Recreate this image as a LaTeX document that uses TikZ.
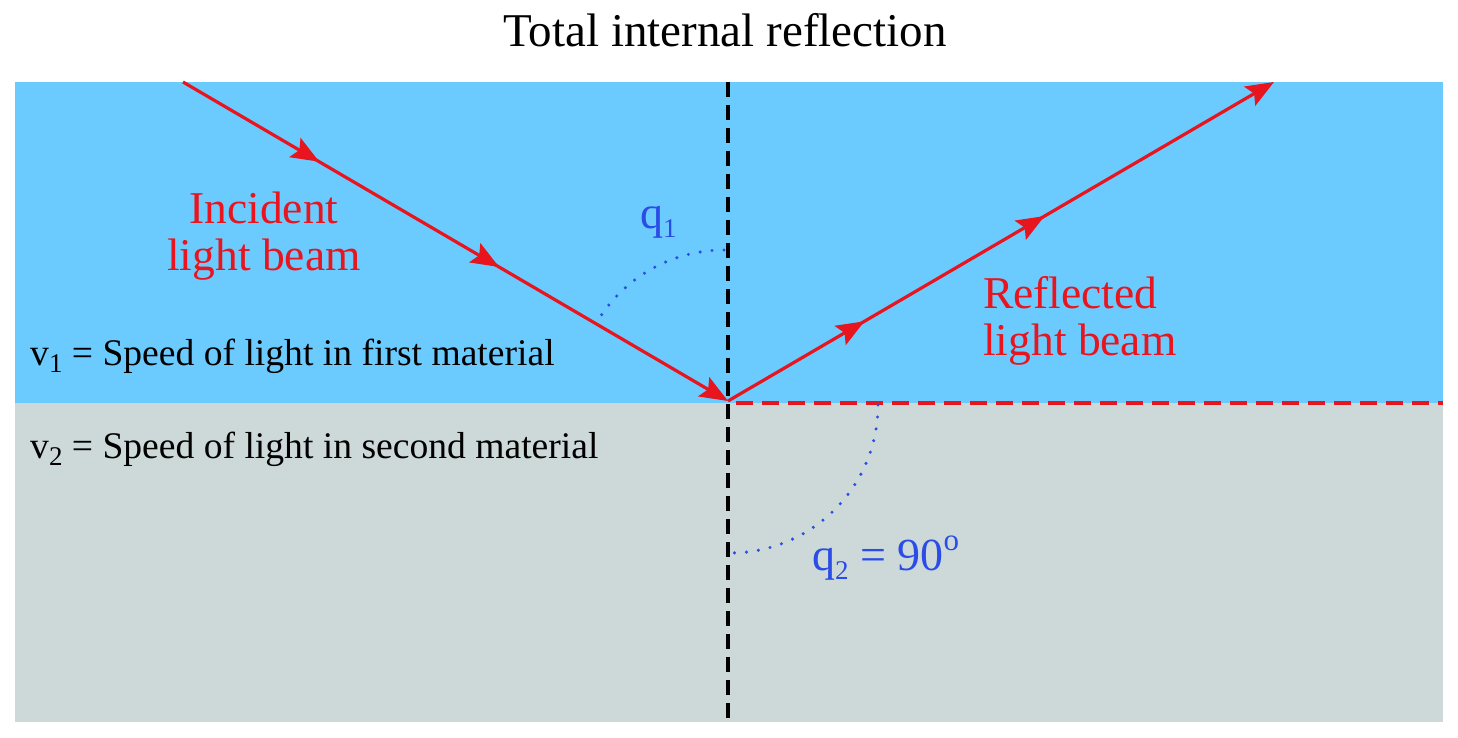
\documentclass[tikz,border=0pt]{standalone}
\usepackage{fontspec}
\setmainfont{Liberation Serif}
\usetikzlibrary{arrows.meta,decorations.markings}
\definecolor{bluebg}{HTML}{6BCBFE}
\definecolor{graybg}{HTML}{CDD9D9}
\definecolor{beamred}{HTML}{E8141E}
\definecolor{anglblue}{HTML}{2B4CE6}
\newcommand{\lowsub}[1]{\raisebox{-0.2em}{\fontsize{27}{29}\selectfont #1}}
\newcommand{\highsup}[1]{\raisebox{0.42em}{\fontsize{31}{33}\selectfont #1}}
\tikzset{
  beam/.style={draw=beamred,line width=3.2pt,
    postaction={decorate,decoration={markings,
      mark=at position 0.25 with {\arrow[beamred]{Stealth[length=28pt,width=22pt,inset=5pt]}},
      mark=at position 0.58 with {\arrow[beamred]{Stealth[length=28pt,width=22pt,inset=5pt]}}}}},
  normalline/.style={draw=black,line width=3.2pt,dash pattern=on 15pt off 8pt},
  surfline/.style={draw=beamred,line width=3.2pt,dash pattern=on 17pt off 9pt},
  anglearc/.style={draw=anglblue,line width=3.4pt,line cap=round,dash pattern=on 0pt off 12pt},
  redlabel/.style={text=beamred,font=\fontsize{45.5}{47}\selectfont,inner sep=0pt},
  bluelabel/.style={text=anglblue,font=\fontsize{46}{48}\selectfont,inner sep=0pt},
  blacklabel/.style={text=black,font=\fontsize{37.6}{40}\selectfont,inner sep=0pt},
}
\begin{document}
\begin{tikzpicture}[x=1pt,y=-1pt]
\useasboundingbox (0,0) rectangle (1458,738);
\fill[white] (0,0) rectangle (1458,738);
% media
\fill[bluebg] (15,82) rectangle (1443,403);
\fill[graybg] (15,403) rectangle (1443,722);
% coordinates
\coordinate (O) at (728,401);
\coordinate (Ntop) at (728,82);
\coordinate (Nbot) at (728,723);
\coordinate (Send) at (1443,403);
\coordinate (Sstart) at (736,403);
\coordinate (Inc) at (183,82);
\coordinate (Ref) at (1274,82);
% normal and surface
\draw[normalline] (Ntop) -- (Nbot);
\draw[surfline] (Sstart) -- (Send);
% angle arcs
\draw[anglearc] (724,250) arc[start angle=-90,end angle=-150,radius=148];
\draw[anglearc] (878,405) arc[start angle=0,end angle=90,radius=148];
% beams
\draw[beam,-{Stealth[length=28pt,width=22pt,inset=5pt]}] (Inc) -- (O);
\draw[beam,-{Stealth[length=28pt,width=22pt,inset=5pt]}] (O) -- (Ref);
% labels
\node[anchor=base,inner sep=0pt,font=\fontsize{47}{50}\selectfont] (title) at (725,47) {Total internal reflection};
\node[redlabel,anchor=base,align=center] (inc) at (264,270) {Incident\\light beam};
\node[redlabel,anchor=base west,align=left] (ref) at (983,355) {Reflected\\light beam};
\node[bluelabel,anchor=base west] (q1) at (640,228) {q\lowsub{1}};
\node[bluelabel,anchor=base west] (q2) at (812,570) {q\lowsub{2} = 90\highsup{o}};
\node[blacklabel,anchor=base west] (v1) at (30,365) {v\lowsub{1} = Speed of light in first material};
\node[blacklabel,anchor=base west] (v2) at (30,458) {v\lowsub{2} = Speed of light in second material};
\end{tikzpicture}
\end{document}
